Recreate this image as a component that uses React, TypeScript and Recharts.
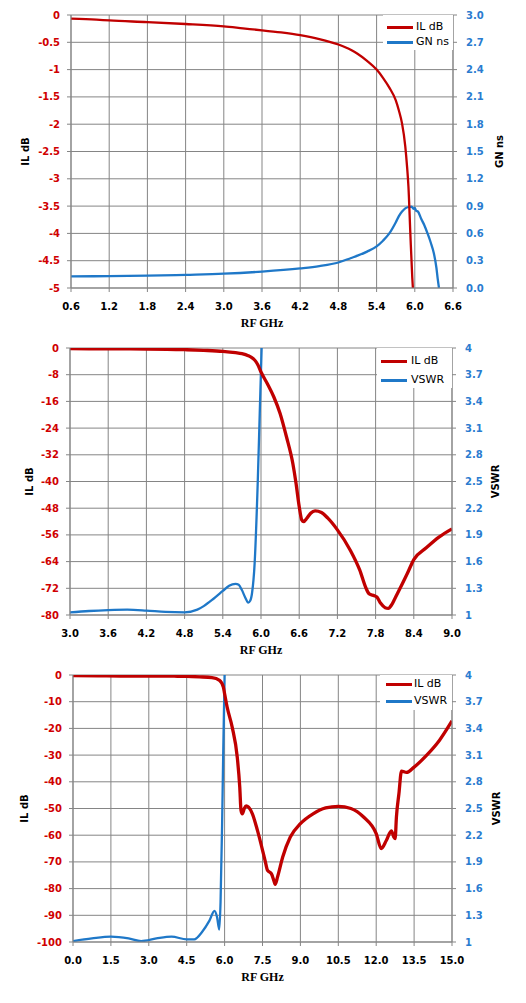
import React from "react";
import { LineChart, Line, XAxis, YAxis, CartesianGrid } from "recharts";

const RED = "#C00000";
const BLUE = "#1F78C8";
const RED_TXT = "#D00000";
const BLUE_TXT = "#2A7CD0";
const GRID = "#858585";
const FONT = "'DejaVu Sans', Verdana, sans-serif";

// ---- chart 1: passband IL and group delay ----
const p1IlFreq = [0.6, 1.0, 1.2, 1.8, 2.4, 3.0, 3.3, 3.6, 3.9, 4.2, 4.5, 4.8, 5.0, 5.1, 5.25, 5.4, 5.5, 5.6, 5.7, 5.75, 5.8, 5.85, 5.88, 5.9, 5.93, 5.96, 5.97];
const p1Il = [-0.065, -0.085, -0.1, -0.13, -0.165, -0.21, -0.245, -0.28, -0.32, -0.37, -0.44, -0.54, -0.64, -0.71, -0.84, -1.0, -1.15, -1.33, -1.56, -1.75, -1.99, -2.4, -2.8, -3.14, -4.0, -4.8, -5.0];
const p1GnFreq = [0.6, 1.2, 1.8, 2.4, 3.0, 3.6, 4.2, 4.5, 4.8, 5.0, 5.1, 5.25, 5.4, 5.5, 5.6, 5.7, 5.75, 5.8, 5.85, 5.9, 5.95, 5.98, 6.0, 6.02, 6.05, 6.1, 6.15, 6.2, 6.25, 6.3, 6.34, 6.36, 6.38];
const p1Gn = [0.128, 0.13, 0.135, 0.145, 0.157, 0.18, 0.215, 0.24, 0.28, 0.33, 0.355, 0.4, 0.457, 0.52, 0.6, 0.72, 0.79, 0.84, 0.875, 0.89, 0.895, 0.87, 0.88, 0.85, 0.84, 0.76, 0.69, 0.6, 0.5, 0.38, 0.22, 0.1, 0];
const p1XTicks = [0.6, 1.2, 1.8, 2.4, 3.0, 3.6, 4.2, 4.8, 5.4, 6.0, 6.6];
const p1LTicks = [0, -0.5, -1, -1.5, -2, -2.5, -3, -3.5, -4, -4.5, -5];
const p1RTicks = [0, 0.3, 0.6, 0.9, 1.2, 1.5, 1.8, 2.1, 2.4, 2.7, 3.0];

// ---- chart 2: 3-9 GHz IL and VSWR ----
const p2IlFreq = [3.0, 3.6, 4.2, 4.8, 5.1, 5.4, 5.6, 5.7, 5.8, 5.85, 5.9, 5.95, 6.0, 6.1, 6.2, 6.3, 6.4, 6.5, 6.55, 6.6, 6.64, 6.67, 6.72, 6.78, 6.85, 6.95, 7.05, 7.2, 7.4, 7.55, 7.65, 7.7, 7.78, 7.82, 7.88, 7.95, 8.0, 8.05, 8.1, 8.2, 8.3, 8.4, 8.6, 8.8, 9.0];
const p2Il = [-0.2, -0.25, -0.3, -0.5, -0.7, -1.0, -1.4, -1.7, -2.3, -2.8, -3.6, -5.0, -7.2, -10.7, -14.6, -19.6, -26.6, -34.6, -40.5, -47.5, -51.5, -52, -51, -49.5, -48.8, -49.3, -51, -54.5, -60.5, -66.5, -72, -73.7, -74.2, -74.6, -76.5, -77.8, -78, -77, -75.2, -71.4, -67.5, -63.4, -59.8, -56.6, -54.2];
const p2VsFreq = [3.0, 3.3, 3.6, 3.9, 4.2, 4.5, 4.8, 5.0, 5.1, 5.25, 5.4, 5.5, 5.6, 5.65, 5.7, 5.75, 5.8, 5.83, 5.86, 5.9, 5.95, 5.98, 6.01];
const p2Vs = [1.03, 1.045, 1.055, 1.06, 1.05, 1.035, 1.03, 1.06, 1.1, 1.18, 1.27, 1.33, 1.35, 1.34, 1.28, 1.2, 1.14, 1.16, 1.25, 1.58, 2.52, 3.26, 4.0];
const p2XTicks = [3.0, 3.6, 4.2, 4.8, 5.4, 6.0, 6.6, 7.2, 7.8, 8.4, 9.0];
const p2LTicks = [0, -8, -16, -24, -32, -40, -48, -56, -64, -72, -80];
const vswrTicks = [1, 1.3, 1.6, 1.9, 2.2, 2.5, 2.8, 3.1, 3.4, 3.7, 4];

// ---- chart 3: 0-15 GHz IL and VSWR ----
const p3IlFreq = [0, 1.0, 2.0, 3.0, 4.0, 4.5, 5.0, 5.5, 5.8, 5.95, 6.0, 6.1, 6.3, 6.5, 6.6, 6.65, 6.7, 6.78, 6.85, 6.95, 7.1, 7.3, 7.6, 7.7, 7.85, 7.95, 8.0, 8.1, 8.3, 8.6, 9.0, 9.5, 10.0, 10.5, 11.0, 11.5, 12.0, 12.2, 12.4, 12.6, 12.7, 12.75, 12.8, 12.9, 13.0, 13.2, 13.5, 14.0, 14.5, 15.0];
const p3Il = [-0.2, -0.3, -0.4, -0.4, -0.45, -0.5, -0.7, -1.0, -2.0, -4.5, -7, -12, -19.5, -30.7, -42, -50.7, -52, -50, -49, -49.5, -52, -58.2, -69.4, -73.2, -74.4, -77, -78.4, -75.5, -68.2, -60.7, -55.7, -52, -49.8, -49.2, -50, -53.2, -59.4, -65, -62, -58.4, -60.7, -61.3, -53.2, -44.4, -36, -36.5, -34.5, -30, -24.5, -17.2];
const p3VsFreq = [0, 0.75, 1.5, 2.2, 2.7, 3.3, 3.9, 4.5, 4.8, 5.1, 5.4, 5.6, 5.7, 5.79, 5.84, 5.9, 5.95, 6.0];
const p3Vs = [1.01, 1.04, 1.06, 1.04, 1.01, 1.04, 1.06, 1.03, 1.03, 1.11, 1.24, 1.35, 1.28, 1.14, 1.45, 2.3, 3.2, 4.0];
const p3XTicks = [0, 1.5, 3.0, 4.5, 6.0, 7.5, 9.0, 10.5, 12.0, 13.5, 15.0];
const p3LTicks = [0, -10, -20, -30, -40, -50, -60, -70, -80, -90, -100];

const zip = (f: number[], v: number[]) => f.map((x, i) => ({ f: x, v: v[i] }));

interface PanelProps {
  height: number;
  top: number;
  bottom: number;
  leftW: number;
  rightW: number;
  il: { f: number; v: number }[];
  other: { f: number; v: number }[];
  otherName: string;
  rightTitle: string;
  xTicks: number[];
  lTicks: number[];
  rTicks: number[];
  rFmt: (v: number) => string;
  ilWidth: number;
  leftTitleX: number;
  rightTitleX: number;
  legend: { left: number; top: number; width: number; height: number; rows: number[]; lineX: number; textX: number };
}

const Panel = (p: PanelProps) => {
  const width = 526;
  const plotLeft = p.leftW;
  const plotRight = width - p.rightW;
  const plotBottom = p.height - p.bottom;
  const midX = (plotLeft + plotRight) / 2;
  const midY = (p.top + plotBottom) / 2;
  const xDom = [p.xTicks[0], p.xTicks[p.xTicks.length - 1]];
  const lDom = [p.lTicks[p.lTicks.length - 1], p.lTicks[0]];
  const rDom = [p.rTicks[0], p.rTicks[p.rTicks.length - 1]];
  const tickBase = { fontSize: 10, fontWeight: 700, fontFamily: FONT };
  const titleStyle = { fontSize: 10, fontWeight: 700, fontFamily: FONT, fill: "#000" };
  const lg = p.legend;

  return (
    <div style={{ position: "relative", width, height: p.height }}>
      <LineChart width={width} height={p.height} margin={{ top: p.top, right: 0, bottom: p.bottom - 40, left: 0 }}>
        <CartesianGrid stroke={GRID} strokeWidth={1} />
        <XAxis
          dataKey="f"
          type="number"
          domain={xDom}
          ticks={p.xTicks}
          allowDataOverflow
          height={40}
          stroke={GRID}
          tickSize={4}
          tickMargin={11}
          tick={{ ...tickBase, fill: "#000" }}
          tickFormatter={(v: number) => v.toFixed(1)}
          label={() => (
            <text x={midX} y={plotBottom + 39} textAnchor="middle" style={{ fontSize: 12, fontWeight: 700, fontFamily: "'Liberation Serif', 'Times New Roman', serif", fill: "#000" }}>
              RF GHz
            </text>
          )}
        />
        <YAxis
          type="number"
          domain={lDom}
          ticks={p.lTicks}
          allowDataOverflow
          width={p.leftW}
          stroke={GRID}
          tickSize={4}
          tickMargin={7}
          tick={{ ...tickBase, fill: RED_TXT }}
          label={() => (
            <text x={p.leftTitleX} y={midY} transform={`rotate(-90, ${p.leftTitleX}, ${midY})`} textAnchor="middle" style={titleStyle}>
              IL dB
            </text>
          )}
        />
        <YAxis
          yAxisId="r"
          orientation="right"
          type="number"
          domain={rDom}
          ticks={p.rTicks}
          allowDataOverflow
          width={p.rightW}
          stroke={GRID}
          tickSize={4}
          tickMargin={9}
          tick={{ ...tickBase, fill: BLUE_TXT, textAnchor: "start" }}
          tickFormatter={p.rFmt}
          label={() => (
            <text x={p.rightTitleX} y={midY} transform={`rotate(-90, ${p.rightTitleX}, ${midY})`} textAnchor="middle" style={titleStyle}>
              {p.rightTitle}
            </text>
          )}
        />
        <Line data={p.other} dataKey="v" yAxisId="r" type="monotone" stroke={BLUE} strokeWidth={2.3} dot={false} isAnimationActive={false} />
        <Line data={p.il} dataKey="v" type="monotone" stroke={RED} strokeWidth={p.ilWidth} dot={false} isAnimationActive={false} />
      </LineChart>
      <div style={{ position: "absolute", left: lg.left, top: lg.top, width: lg.width, height: lg.height, background: "#fff" }}>
        {[
          { name: "IL dB", color: RED },
          { name: p.otherName, color: BLUE },
        ].map((r, i) => (
          <div key={r.name} style={{ position: "absolute", top: lg.rows[i] - lg.top - 7, left: 0, height: 14, width: lg.width }}>
            <div style={{ position: "absolute", left: lg.lineX - lg.left, top: 6, width: 26, height: 3, background: r.color }} />
            <span style={{ position: "absolute", left: lg.textX - lg.left, top: 0, lineHeight: "14px", fontSize: 11, fontFamily: FONT, color: "#000", whiteSpace: "nowrap" }}>
              {r.name}
            </span>
          </div>
        ))}
      </div>
    </div>
  );
};

export default function App() {
  return (
    <div style={{ position: "absolute", left: 0, top: 0, width: 526, height: 1003, background: "#fff" }}>
      <Panel
        height={330}
        top={15}
        bottom={42}
        leftW={71}
        rightW={73}
        il={zip(p1IlFreq, p1Il)}
        other={zip(p1GnFreq, p1Gn)}
        otherName="GN ns"
        rightTitle="GN ns"
        xTicks={p1XTicks}
        lTicks={p1LTicks}
        rTicks={p1RTicks}
        rFmt={(v) => v.toFixed(1)}
        ilWidth={2.3}
        leftTitleX={28.5}
        rightTitleX={502.5}
        legend={{ left: 383, top: 15, width: 70, height: 35, rows: [27, 42], lineX: 387, textX: 416 }}
      />
      <Panel
        height={330}
        top={18}
        bottom={45}
        leftW={70}
        rightW={74}
        il={zip(p2IlFreq, p2Il)}
        other={zip(p2VsFreq, p2Vs)}
        otherName="VSWR"
        rightTitle="VSWR"
        xTicks={p2XTicks}
        lTicks={p2LTicks}
        rTicks={vswrTicks}
        rFmt={(v) => String(v)}
        ilWidth={3.3}
        leftTitleX={32.5}
        rightTitleX={498.5}
        legend={{ left: 377, top: 18, width: 75, height: 40, rows: [31, 50], lineX: 381, textX: 411 }}
      />
      <Panel
        height={343}
        top={15}
        bottom={61}
        leftW={73}
        rightW={74}
        il={zip(p3IlFreq, p3Il)}
        other={zip(p3VsFreq, p3Vs)}
        otherName="VSWR"
        rightTitle="VSWR"
        xTicks={p3XTicks}
        lTicks={p3LTicks}
        rTicks={vswrTicks}
        rFmt={(v) => String(v)}
        ilWidth={3.3}
        leftTitleX={27.5}
        rightTitleX={499.5}
        legend={{ left: 380, top: 15, width: 72, height: 35, rows: [24, 41], lineX: 386, textX: 414 }}
      />
    </div>
  );
}
